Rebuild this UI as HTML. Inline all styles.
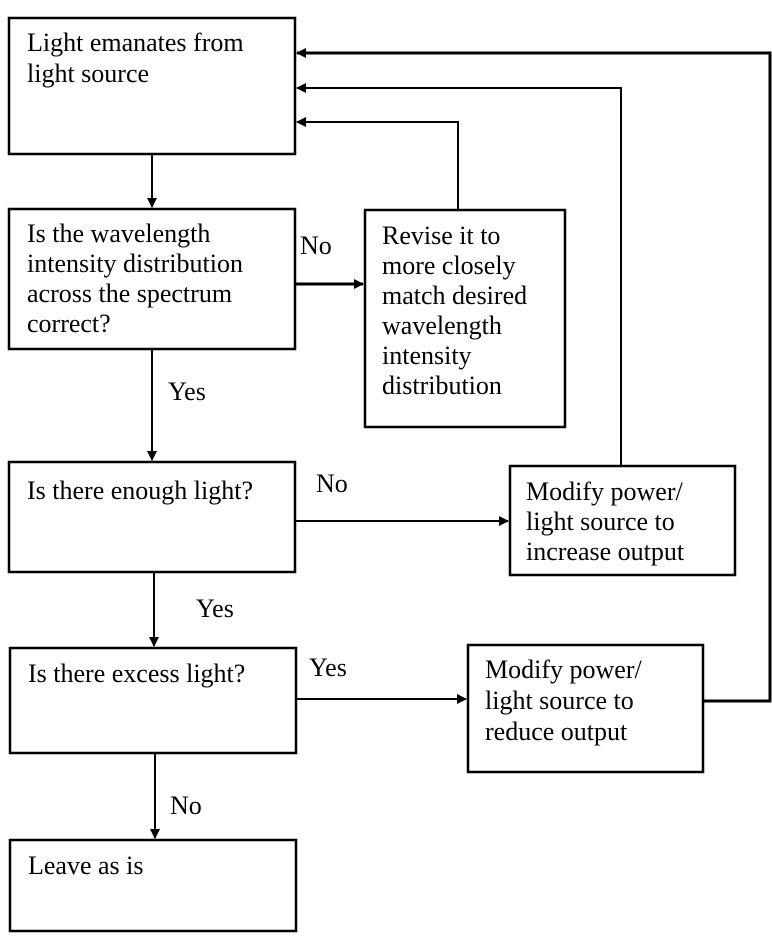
<!DOCTYPE html>
<html><head><style>html,body{margin:0;padding:0;background:#fff}svg{display:block}text{font-family:"Liberation Serif",serif;font-size:26px;fill:#000}</style></head>
<body>
<svg width="772" height="947" viewBox="0 0 772 947" xmlns="http://www.w3.org/2000/svg">
<defs><marker id="a" markerWidth="10" markerHeight="10" refX="9" refY="5" orient="auto" markerUnits="userSpaceOnUse"><path d="M0,0 L10,5 L0,10 z" fill="#000"/></marker></defs>
<g fill="none" stroke="#000" stroke-width="2.5">
<rect x="9" y="18" width="286" height="136"/>
<rect x="9" y="209" width="286" height="140"/>
<rect x="365" y="210" width="200" height="217"/>
<rect x="9" y="462" width="286" height="110"/>
<rect x="510" y="466" width="225" height="109"/>
<rect x="10" y="648" width="286" height="105"/>
<rect x="468" y="645" width="235" height="127"/>
<rect x="10" y="840" width="286" height="91"/>
</g>
<g fill="none" stroke="#000" stroke-width="2">
<line x1="152" y1="154" x2="152" y2="207" marker-end="url(#a)"/>
<line x1="295" y1="284" x2="363" y2="284" stroke-width="3" marker-end="url(#a)"/>
<line x1="152" y1="349" x2="152" y2="460" marker-end="url(#a)"/>
<polyline points="458,210 458,122 297,122" marker-end="url(#a)"/>
<polyline points="621,466 621,88 297,88" marker-end="url(#a)"/>
<polyline points="703,701 770,701 770,53 297,53" stroke-width="3" marker-end="url(#a)"/>
<line x1="295" y1="521" x2="508" y2="521" marker-end="url(#a)"/>
<line x1="154" y1="572" x2="154" y2="646" marker-end="url(#a)"/>
<line x1="296" y1="699" x2="466" y2="699" marker-end="url(#a)"/>
<line x1="155" y1="753" x2="155" y2="838" marker-end="url(#a)"/>
</g>
<text x="27" y="51">Light emanates from</text>
<text x="27" y="82">light source</text>
<text x="27" y="242">Is the wavelength</text>
<text x="27" y="272">intensity distribution</text>
<text x="27" y="302">across the spectrum</text>
<text x="27" y="332">correct?</text>
<text x="300" y="254">No</text>
<text x="382" y="244">Revise it to</text>
<text x="382" y="274">more closely</text>
<text x="382" y="304">match desired</text>
<text x="382" y="334">wavelength</text>
<text x="382" y="364">intensity</text>
<text x="382" y="394">distribution</text>
<text x="168" y="400">Yes</text>
<text x="27" y="499">Is there enough light?</text>
<text x="316" y="492">No</text>
<text x="526" y="500">Modify power/</text>
<text x="526" y="530">light source to</text>
<text x="526" y="560">increase output</text>
<text x="196" y="617">Yes</text>
<text x="28" y="682">Is there excess light?</text>
<text x="309" y="676">Yes</text>
<text x="485" y="678">Modify power/</text>
<text x="485" y="709">light source to</text>
<text x="485" y="740">reduce output</text>
<text x="170" y="814">No</text>
<text x="28" y="874">Leave as is</text>
</svg>
</body></html>
